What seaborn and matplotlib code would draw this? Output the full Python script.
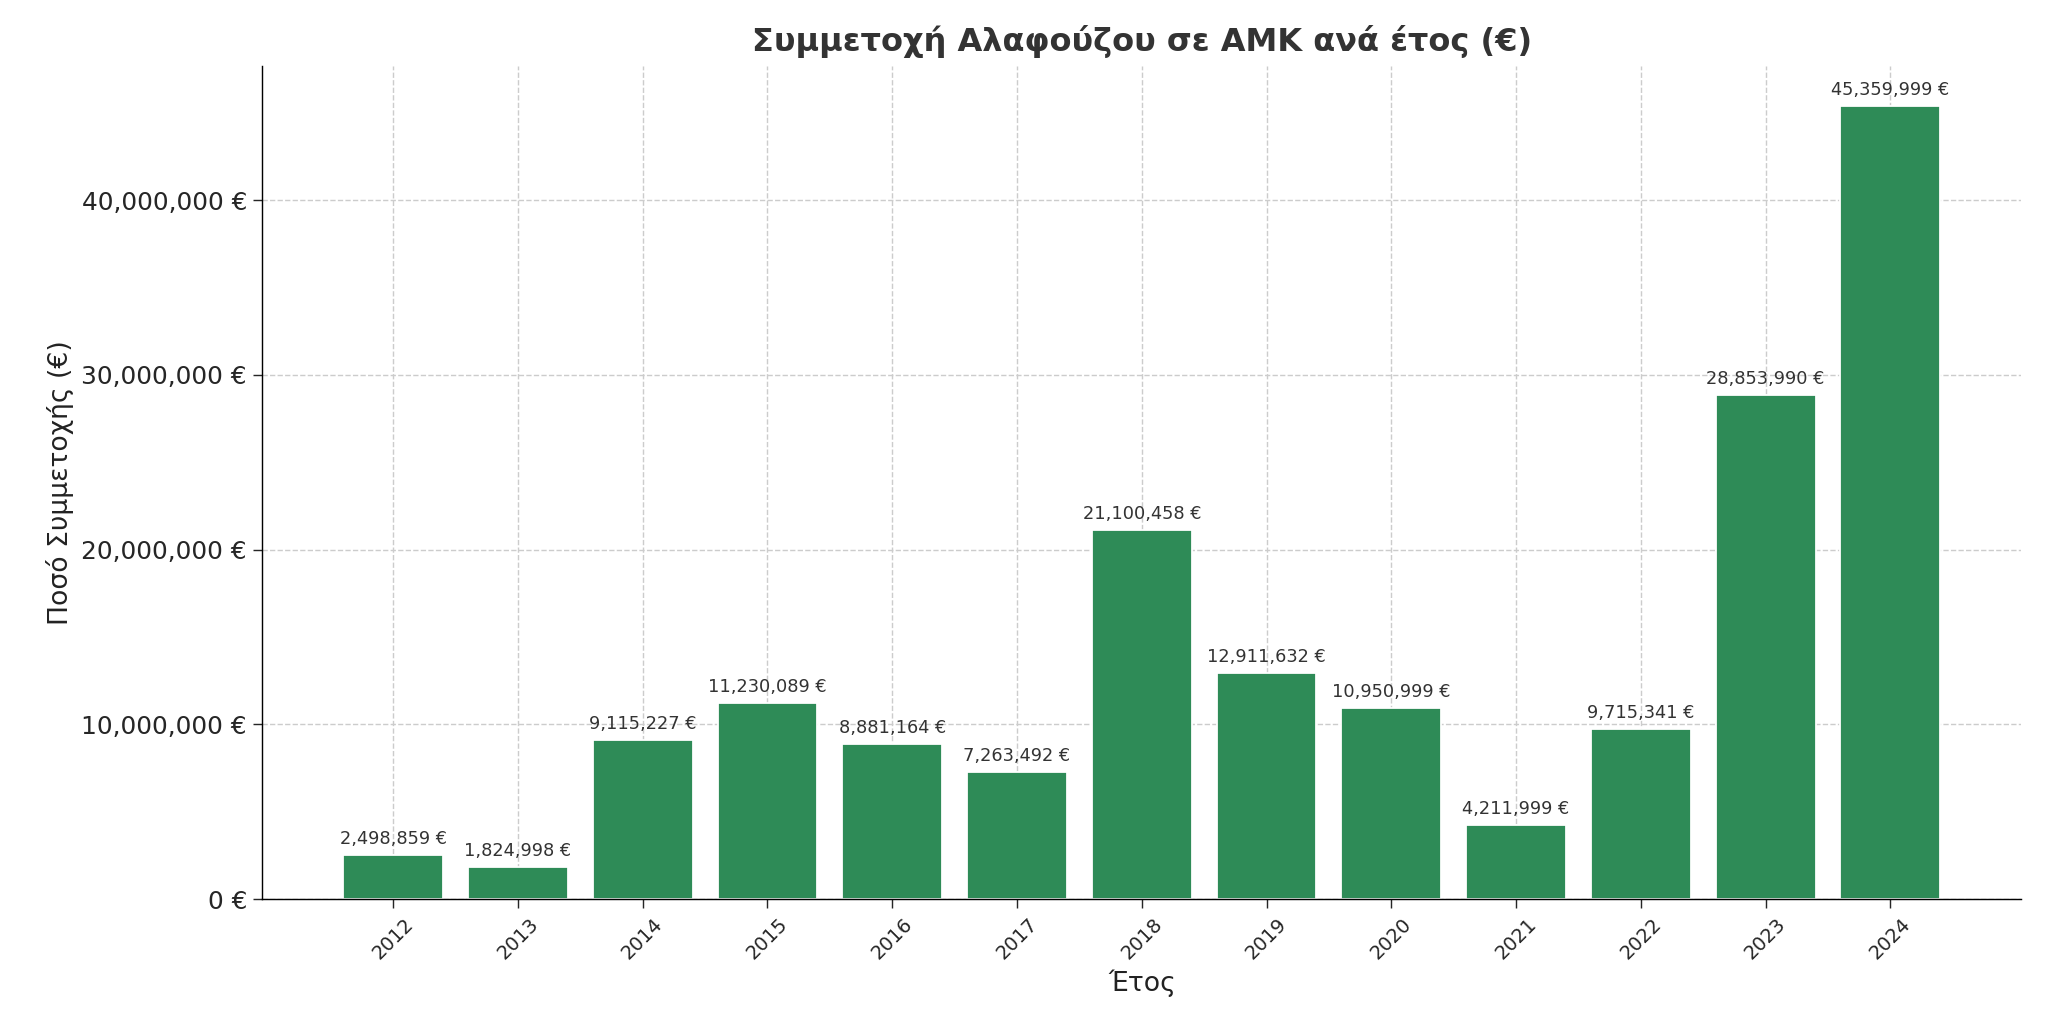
import matplotlib
matplotlib.use("Agg")
import matplotlib.pyplot as plt
import seaborn as sns
import pandas as pd
from matplotlib.ticker import FuncFormatter

years = [2012, 2013, 2014, 2015, 2016, 2017, 2018, 2019, 2020, 2021, 2022, 2023, 2024]
amounts = [2498859, 1824998, 9115227, 11230089, 8881164, 7263492, 21100458,
           12911632, 10950999, 4211999, 9715341, 28853990, 45359999]

df = pd.DataFrame({"year": years, "amount": amounts})

sns.set_style("white")
plt.rcParams['font.family'] = ['DejaVu Sans']

fig = plt.figure(figsize=(16, 8), dpi=128)
ax = fig.add_axes([0.128, 0.122, 0.859, 0.814])
sns.barplot(data=df, x="year", y="amount", color="#2e8b57", saturation=1,
            width=0.8, native_scale=True, ax=ax)

# value labels above bars
ax.bar_label(ax.containers[0], labels=[f"{v:,} €" for v in amounts],
             padding=4, fontsize=10, color="#333333")

ax.set_xticks(years)
ax.set_xticklabels([str(y) for y in years])
ax.set_xlim(years[0] - 1.05, years[-1] + 1.05)
ax.set_ylim(0, 47.7e6)
ax.yaxis.set_major_formatter(FuncFormatter(lambda v, p: f"{v:,.0f} €"))
ax.set_yticks([0, 10e6, 20e6, 30e6, 40e6])
ax.tick_params(axis="y", labelsize=14, left=True, length=5)
ax.tick_params(axis="x", labelsize=11, rotation=45, bottom=True, length=5)
ax.grid(True, linestyle="--", color="#cccccc", linewidth=0.8)
ax.set_axisbelow(True)
for s in ["top", "right"]:
    ax.spines[s].set_visible(False)
ax.spines["left"].set_color("black")
ax.spines["bottom"].set_color("black")

ax.set_title("Συμμετοχή Αλαφούζου σε ΑΜΚ ανά έτος (€)", fontsize=18,
             fontweight="bold", color="#333333", pad=8)
ax.set_xlabel("Έτος", fontsize=15, color="#222222")
ax.set_ylabel("Ποσό Συμμετοχής (€)", fontsize=15, color="#222222")

fig.savefig("out.png", dpi=128)
